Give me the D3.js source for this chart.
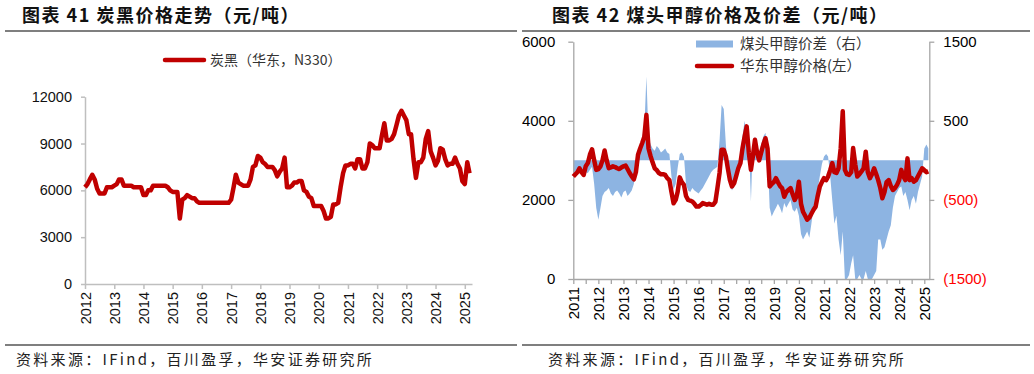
<!DOCTYPE html>
<html>
<head>
<meta charset="utf-8">
<script src="https://cdn.jsdelivr.net/npm/d3@7"></script>
<style>
  body { margin: 0; background: #fff; }
  svg text { font-family: "Liberation Sans", Arial, sans-serif; }
  .cjk { font-family: "Noto Sans CJK SC", sans-serif; }
</style>
</head>
<body>
<svg id="chart" width="1034" height="374"></svg>
<script>
// Define data (monthly values, first month = January of start year)

var cbStart = 2012;
var carbonBlack = [
  6200, 6400, 6700, 7000, 6700, 6100, 5800, 5800, 5800, 6200, 6200, 6200,
  6300, 6400, 6700, 6700, 6300, 6300, 6300, 6300, 6200, 6200, 6200, 6200,
  5700, 5700, 6000, 6000, 6300, 6300, 6300, 6300, 6300, 6300, 6200, 6000,
  5900, 5900, 5900, 4200, 5400, 5500, 5700, 5600, 5500, 5500, 5300, 5200,
  5200, 5200, 5200, 5200, 5200, 5200, 5200, 5200, 5200, 5200, 5200, 5200,
  5400, 6200, 7000, 6500, 6400, 6300, 6300, 6300, 6700, 7500, 7600, 8200,
  8100, 7800, 7700, 7500, 7500, 7500, 7300, 6900, 7200, 7400, 8100, 6200,
  6200, 6300, 6500, 6500, 6600, 6600, 6000, 5900, 5600, 5500, 5000, 5000,
  5000, 5000, 4700, 4200, 4200, 4300, 5100, 5100, 5200, 6200, 7100, 7600,
  7600, 7700, 7700, 7400, 8000, 8000, 7400, 7400, 7800, 9000, 8900, 8700,
  8700, 8700, 9500, 10300, 9200, 9200, 9300, 9600, 10200, 10800, 11100, 10800,
  10500, 9600, 9600, 8000, 6800, 7800, 7800, 8100, 9300, 9800, 8500, 8100,
  7600, 7900, 8700, 8600, 8000, 7600, 7700, 7700, 8100, 7700, 7400, 6600,
  6400, 7800, 7100
];
var cbYTicks = [0, 3000, 6000, 9000, 12000];
var cbYears = ["2012", "2013", "2014", "2015", "2016", "2017", "2018", "2019",
  "2020", "2021", "2022", "2023", "2024", "2025"];

var meStart = 2011;
var methanolPrice = [
  2590, 2650, 2700, 2800, 2700, 2630, 2850, 2930, 3150, 3280, 3000, 2760,
  2780, 2850, 3000, 3250, 3000, 2800, 2820, 2850, 2830, 2800, 2780, 2820,
  2850, 2870, 2780, 2680, 2600, 2520, 2700, 3140, 3300, 3440, 3600, 4150,
  3300, 3100, 2950, 2800, 2750, 2680, 2650, 2650, 2630, 2550, 2500, 2200,
  1915, 2000, 2200, 2570, 2450, 2380, 2100, 2000, 1980, 1960, 1900, 1830,
  1830, 1870, 1920, 1900, 1880, 1900, 1880, 1880, 1950, 2300, 2680, 3270,
  3270, 3100, 2800, 2500, 2340, 2420, 2600, 2800, 2930, 3300, 3600, 3860,
  3200, 2760, 3100, 3520, 3200, 3000, 3200, 3400, 3560, 3300, 2340, 2400,
  2450, 2550, 2450, 2350, 2300, 2080, 2200, 2250, 2300, 2150, 2000, 2100,
  2460, 1900, 1700, 1600, 1500, 1550, 1650, 1750, 1830, 2100, 2340, 2450,
  2550, 2500, 2590, 2750, 2930, 2700, 2680, 2800, 3300, 4240, 2760, 2650,
  2630, 2700, 3310, 2900, 2590, 2650, 2720, 2800, 3220, 2700, 2550, 2650,
  2800, 2650, 2500, 2300, 2040, 2200, 2450, 2500, 2350, 2250, 2300, 2380,
  2500, 2760, 2600, 2500, 3050, 2500, 2550, 2460, 2500, 2600, 2700, 2800,
  2750, 2700, 2720
];
var methanolSpread = [
  -150, -200, -100, -150, -180, -100, -150, -160, -120, -80, -300, -600,
  -750, -600, -450, -400, -380, -350, -420, -450, -400, -380, -420, -470,
  -400, -380, -450, -420, -380, -300, -100, 0, 150, 300, 400, 1060,
  300, 200, 150, 120, 180, 150, 100, 120, 150, 100, 80, -200,
  -370, -300, -100, 80, 100, 50, -300, -380, -400, -350, -380, -400,
  -420, -380, -350, -300, -250, -200, -150, -120, -100, -80, 250, 700,
  650, 200, -100, -300, -380, -330, -200, -100, 100, 300, 500, 300,
  280, -520, 200, 300, 150, 100, 200, 300, 350, 100, -600, -710,
  -650, -600, -550, -600, -670, -540, -600, -550, -500, -620, -650, -600,
  -700, -930, -1000, -950, -900, -980, -800, -600, -500, -370, -200, -50,
  50, 80, 50, -200, -500, -800, -700, -1000, -1200, -900, -1500, -1500,
  -1450, -1300, -1200, -1500, -1500, -1450, -1500, -1500, -1400, -1500, -1500, -1500,
  -1450, -1400, -1000, -1000, -1130, -1100, -1000, -900, -820, -600, -450, -400,
  -350, -330, -450, -400, -500, -630, -500, -450, -550, -400, -300, -200,
  150, 200, 150
];
var meLeftTicks = [0, 2000, 4000, 6000];
var meRightTicks = [-1500, -500, 500, 1500];
var meYears = ["2011", "2012", "2013", "2014", "2015", "2016", "2017", "2018",
  "2019", "2020", "2021", "2022", "2023", "2024", "2025"];

function toSeries(startYear, values) {
  return values.map(function(v, i) {
    return {date: new Date(startYear, i, 1), value: v};
  });
}

var svg = d3.select("#chart");
var red = "#C00000";
var axisGrey = "#A6A6A6";

// Titles and rules

svg.append("text").attr("class", "cjk")
  .attr("x", 22).attr("y", 22)
  .style("font-size", "18px").style("font-weight", "bold")
  .style("letter-spacing", "1.5px").attr("fill", "#111")
  .text("图表 41 炭黑价格走势（元/吨）");

svg.append("text").attr("class", "cjk")
  .attr("x", 552).attr("y", 22)
  .style("font-size", "18px").style("font-weight", "bold")
  .style("letter-spacing", "1.5px").attr("fill", "#111")
  .text("图表 42 煤头甲醇价格及价差（元/吨）");

[[5, 517], [522, 1030]].forEach(function(s) {
  svg.append("line").attr("x1", s[0]).attr("x2", s[1])
    .attr("y1", 31).attr("y2", 31)
    .attr("stroke", "#7F7F7F").attr("stroke-width", 2);
  svg.append("line").attr("x1", s[0]).attr("x2", s[1])
    .attr("y1", 345).attr("y2", 345)
    .attr("stroke", "#7F7F7F").attr("stroke-width", 2);
});

[16, 548].forEach(function(x) {
  svg.append("text").attr("class", "cjk")
    .attr("x", x).attr("y", 365)
    .style("font-size", "15px").style("letter-spacing", "2.3px")
    .attr("fill", "#222")
    .text("资料来源：IFind，百川盈孚，华安证券研究所");
});

// ---- Chart 41: carbon black ----

var cbData = toSeries(cbStart, carbonBlack);

var cbX = d3.scaleTime()
  .domain([new Date(2012, 0, 1), new Date(2025, 3, 1)])
  .range([85, 472]);

var cbY = d3.scaleLinear()
  .domain([0, 12000])
  .range([284, 96.7]);

var cbYAxis = svg.append("g")
  .attr("transform", "translate(85,0)")
  .call(d3.axisLeft(cbY).tickValues(cbYTicks).tickFormat(d3.format("d"))
    .tickSize(4).tickSizeOuter(0).tickPadding(9));

var cbXAxis = svg.append("g")
  .attr("transform", "translate(0,284)")
  .call(d3.axisBottom(cbX)
    .tickValues(cbYears.map(function(y) { return new Date(+y, 0, 1); }))
    .tickFormat(d3.timeFormat("%Y"))
    .tickSize(5).tickSizeOuter(0));

cbXAxis.selectAll("text")
  .attr("transform", "rotate(-90)")
  .attr("text-anchor", "end")
  .attr("x", -8).attr("y", 0).attr("dy", "0.35em");

[cbYAxis, cbXAxis].forEach(function(a) {
  a.select(".domain").attr("stroke", "#BFBFBF").attr("stroke-width", 1.5);
  a.selectAll(".tick line").attr("stroke", "#BFBFBF").attr("stroke-width", 1.5);
  a.selectAll("text").style("font-size", "14.5px").attr("fill", "#111");
});

svg.append("path")
  .datum(cbData)
  .attr("fill", "none")
  .attr("stroke", red)
  .attr("stroke-width", 4.5)
  .attr("stroke-linejoin", "round")
  .attr("d", d3.line()
    .x(function(d) { return cbX(d.date); })
    .y(function(d) { return cbY(d.value); }));

// legend
svg.append("line").attr("x1", 165).attr("x2", 204).attr("y1", 60).attr("y2", 60)
  .attr("stroke", red).attr("stroke-width", 4.5).attr("stroke-linecap", "round");
svg.append("text").attr("class", "cjk")
  .attr("x", 210).attr("y", 65)
  .style("font-size", "14px").attr("fill", "#333")
  .text("炭黑（华东，N330）");

// ---- Chart 42: methanol ----

var mePrice = toSeries(meStart, methanolPrice);
var meSpread = toSeries(meStart, methanolSpread);

var meX = d3.scaleTime()
  .domain([new Date(2011, 0, 1), new Date(2025, 2, 15)])
  .range([573.3, 929.3]);

var meYL = d3.scaleLinear().domain([0, 6000]).range([279, 41.7]);
var meYR = d3.scaleLinear().domain([-1500, 1500]).range([279, 41.7]);

svg.append("path")
  .datum(meSpread)
  .attr("fill", "#8DB4E2")
  .attr("d", d3.area()
    .x(function(d) { return meX(d.date); })
    .y0(meYR(0))
    .y1(function(d) { return meYR(d.value); }));

var halfYears = [];
meYears.forEach(function(y) {
  halfYears.push(new Date(+y, 0, 1));
  if (+y < 2025) halfYears.push(new Date(+y, 6, 1));
});

var meXAxis = svg.append("g")
  .attr("transform", "translate(0,279)")
  .call(d3.axisBottom(meX)
    .tickValues(halfYears)
    .tickFormat(function(d) { return d.getMonth() === 0 ? d.getFullYear() : ""; })
    .tickSize(5).tickSizeOuter(0));

meXAxis.selectAll("text")
  .attr("transform", "rotate(-90)")
  .attr("text-anchor", "end")
  .attr("x", -8).attr("y", 0).attr("dy", "0.35em");

var meLAxis = svg.append("g")
  .attr("transform", "translate(573.3,0)")
  .call(d3.axisLeft(meYL).tickValues(meLeftTicks).tickFormat(d3.format("d"))
    .tickSize(5).tickSizeOuter(0).tickPadding(13));

var meRAxis = svg.append("g")
  .attr("transform", "translate(929.3,0)")
  .call(d3.axisRight(meYR).tickValues(meRightTicks).tickSize(5).tickSizeOuter(0).tickPadding(9)
    .tickFormat(function(d) { return d < 0 ? "(" + Math.abs(d) + ")" : d; }));

[meXAxis, meLAxis, meRAxis].forEach(function(a) {
  a.select(".domain").attr("stroke", axisGrey).attr("stroke-width", 1.3);
  a.selectAll(".tick line").attr("stroke", axisGrey).attr("stroke-width", 1.3);
  a.selectAll("text").style("font-size", "15px").attr("fill", "#000");
});

meRAxis.selectAll("text")
  .attr("fill", function(d) { return d < 0 ? "#FF0000" : "#000"; });

svg.append("path")
  .datum(mePrice)
  .attr("fill", "none")
  .attr("stroke", red)
  .attr("stroke-width", 4.5)
  .attr("stroke-linejoin", "round")
  .attr("d", d3.line()
    .x(function(d) { return meX(d.date); })
    .y(function(d) { return meYL(d.value); }));

// legend
svg.append("rect").attr("x", 696).attr("y", 40.5).attr("width", 37).attr("height", 7)
  .attr("fill", "#8DB4E2");
svg.append("text").attr("class", "cjk")
  .attr("x", 740).attr("y", 49)
  .style("font-size", "14.5px").attr("fill", "#333")
  .text("煤头甲醇价差（右）");
svg.append("line").attr("x1", 697).attr("x2", 732).attr("y1", 66).attr("y2", 66)
  .attr("stroke", red).attr("stroke-width", 4.5).attr("stroke-linecap", "round");
svg.append("text").attr("class", "cjk")
  .attr("x", 740).attr("y", 71)
  .style("font-size", "14.5px").attr("fill", "#333")
  .text("华东甲醇价格(左）");
</script>
</body>
</html>
